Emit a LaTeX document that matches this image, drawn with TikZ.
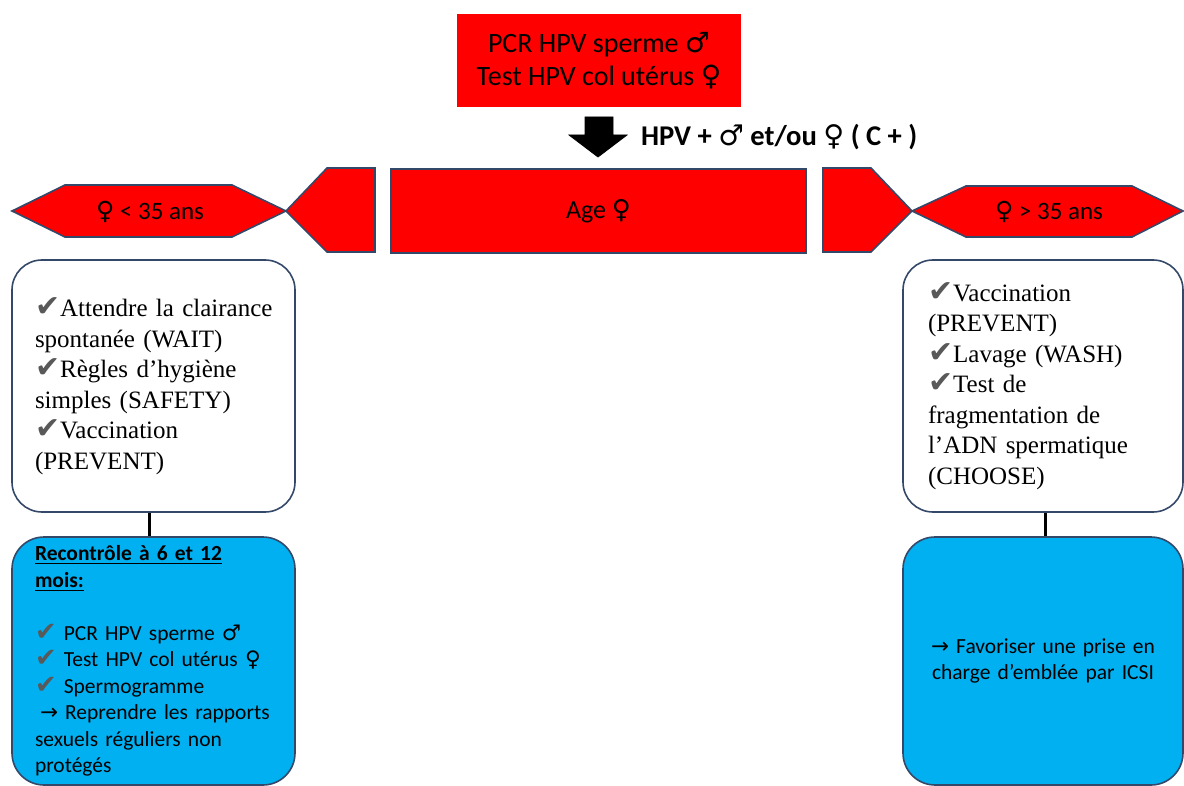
\documentclass[tikz,border=0pt]{standalone}
\usepackage{fontspec}
\setmainfont{Liberation Serif}
\newfontfamily\calfont{Carlito}
\newfontfamily\symfont{DejaVu Sans}
\usetikzlibrary{arrows.meta}
\definecolor{hpvred}{HTML}{FF0000}
\definecolor{hpvblue}{HTML}{00B0F0}
\definecolor{edge}{HTML}{34496A}
\definecolor{chkgray}{HTML}{595959}
\newcommand{\chk}{{\color{chkgray}\symfont\scalebox{1.2}{\char"2714}}}
\newcommand{\mal}{{\symfont\char"2642}}
\newcommand{\fem}{{\symfont\char"2640}}
\newcommand{\rarr}{{\symfont\char"2192}}
\tikzset{
  redshape/.style={fill=hpvred, draw=edge, line width=0.8pt},
  redbox/.style={fill=hpvred, minimum width=142pt, minimum height=46.5pt,
    align=center, font=\calfont\fontsize{14pt}{16.5pt}\selectfont},
  lbl/.style={font=\calfont\fontsize{12.5pt}{14pt}\selectfont},
  carebox/.style={draw=edge, line width=0.8pt, rounded corners=15pt, fill=white,
    minimum height=126pt, align=left, font=\fontsize{12.5pt}{15.25pt}\selectfont},
  ctrlbox/.style={draw=edge, line width=0.8pt, rounded corners=16pt, fill=hpvblue,
    minimum height=124pt, font=\calfont\fontsize{10.75pt}{13.25pt}\selectfont},
  link/.style={line width=1.5pt},
}
\begin{document}
\begin{tikzpicture}[x=0.5pt,y=-0.5pt]
    \useasboundingbox (0,0) rectangle (1184,786);
    %
    \node[redbox] (test) at (599,60.5) {PCR HPV sperme \mal\\Test HPV col utérus \fem};
    \draw[fill=black] (585,117) -- (613,117) -- (613,135) -- (627,135) -- (598,157) -- (569,135) -- (585,135) -- cycle;
    \node[anchor=west, font=\calfont\bfseries\fontsize{14.3pt}{16pt}\selectfont] (pos) at (634,137) {HPV + \mal\ et/ou \fem\ ( C + )};
    %
    \draw[redshape] (12,211) -- (65,185) -- (232,185) -- (286,211) -- (232,237) -- (65,237) -- cycle;
    \draw[redshape] (286,211) -- (327,168) -- (375,168) -- (375,252) -- (327,252) -- cycle;
    \node[redshape, minimum width=207.5pt, minimum height=42pt, font=\calfont\fontsize{13pt}{15pt}\selectfont] (age) at (598.5,211) {Age \fem};
    \draw[redshape] (823,168) -- (871,168) -- (912,211) -- (871,252) -- (823,252) -- cycle;
    \draw[redshape] (912,211) -- (966,186) -- (1132,186) -- (1183,211) -- (1132,237) -- (966,237) -- cycle;
    \node[lbl] (young) at (150,212) {\fem\ < 35 ans};
    \node[lbl] (old) at (1049,212) {\fem\ > 35 ans};
    %
    \node[carebox, text width=118.5pt, inner xsep=11.5pt] (lcare) at (153.5,386)
      {\mbox{\chk Attendre la clairance}\\ spontanée (WAIT)\\ \chk Règles d’hygiène\\ simples (SAFETY)\\ \chk Vaccination\\ (PREVENT)};
    \node[carebox, text width=115pt, inner xsep=12.5pt] (rcare) at (1043,386)
      {\chk Vaccination\\ (PREVENT)\\ \chk Lavage (WASH)\\ \chk Test de\\ fragmentation de\\ \mbox{l’ADN spermatique}\\ (CHOOSE)};
    %
    \node[ctrlbox, align=left, text width=118.5pt, inner xsep=11.5pt] (lctrl) at (153.5,661)
      {\textbf{\underline{Recontrôle à 6 et 12}}\\ \textbf{\underline{mois:}}\\[13.25pt]
       \chk\ PCR HPV sperme \mal\\ \chk\ Test HPV col utérus \fem\\ \chk\ Spermogramme\\
       \hspace{2.5pt}\rarr\ Reprendre les rapports\\ sexuels réguliers non\\ protégés};
    \node[ctrlbox, align=center, text width=115pt, inner xsep=12.5pt] (rctrl) at (1043,661)
      {\rarr\ Favoriser une prise en\\ charge d’emblée par ICSI};
    %
    \draw[link] ([xshift=-2pt]lcare.south) -- ([xshift=-2pt]lctrl.north);
    \draw[link] ([xshift=1pt]rcare.south) -- ([xshift=1pt]rctrl.north);
\end{tikzpicture}
\end{document}
